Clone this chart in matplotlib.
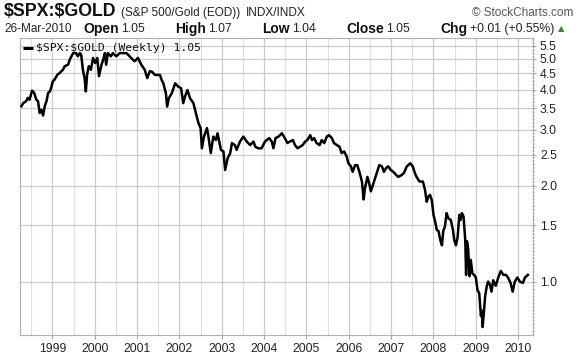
import matplotlib
matplotlib.use("Agg")
import matplotlib.pyplot as plt
from matplotlib.ticker import NullLocator

# ---- data (decimal year, SPX/GOLD ratio) ----
dates = [
    1998.27, 1998.31, 1998.38, 1998.42, 1998.46, 1998.52, 1998.57, 1998.62, 1998.66, 1998.70,
    1998.74, 1998.78, 1998.82, 1998.86, 1998.90, 1998.94, 1998.97, 1999.01, 1999.05, 1999.12,
    1999.17, 1999.25, 1999.29, 1999.37, 1999.41, 1999.49, 1999.56, 1999.60, 1999.65, 1999.68,
    1999.72, 1999.76, 1999.79, 1999.82, 1999.86, 1999.91, 1999.96, 2000.01, 2000.06, 2000.10,
    2000.16, 2000.20, 2000.24, 2000.27, 2000.31, 2000.38, 2000.43, 2000.51, 2000.59, 2000.75,
    2000.86, 2000.94, 2001.02, 2001.10, 2001.18, 2001.24, 2001.30, 2001.35, 2001.42, 2001.54,
    2001.58, 2001.62, 2001.68, 2001.71, 2001.75, 2001.82, 2001.90, 2001.97, 2002.04, 2002.09,
    2002.13, 2002.19, 2002.25, 2002.33, 2002.37, 2002.41, 2002.45, 2002.50, 2002.53, 2002.58,
    2002.65, 2002.68, 2002.74, 2002.80, 2002.86, 2002.90, 2002.94, 2002.98, 2003.04, 2003.08,
    2003.14, 2003.20, 2003.24, 2003.31, 2003.35, 2003.43, 2003.51, 2003.59, 2003.67, 2003.75,
    2003.79, 2003.86, 2003.94, 2004.02, 2004.12, 2004.18, 2004.22, 2004.27, 2004.34, 2004.42,
    2004.49, 2004.55, 2004.61, 2004.68, 2004.73, 2004.79, 2004.85, 2004.91, 2004.97, 2005.02,
    2005.09, 2005.13, 2005.18, 2005.24, 2005.31, 2005.36, 2005.42, 2005.48, 2005.53, 2005.60,
    2005.65, 2005.72, 2005.78, 2005.83, 2005.89, 2005.95, 2005.99, 2006.05, 2006.09, 2006.15,
    2006.20, 2006.25, 2006.31, 2006.35, 2006.38, 2006.44, 2006.49, 2006.52, 2006.57, 2006.62,
    2006.67, 2006.72, 2006.78, 2006.83, 2006.88, 2006.93, 2006.99, 2007.05, 2007.12, 2007.17,
    2007.25, 2007.30, 2007.37, 2007.45, 2007.51, 2007.56, 2007.60, 2007.67, 2007.75, 2007.80,
    2007.84, 2007.88, 2007.92, 2007.96, 2008.00, 2008.04, 2008.08, 2008.12, 2008.16, 2008.20,
    2008.23, 2008.27, 2008.31, 2008.35, 2008.41, 2008.46, 2008.49, 2008.53, 2008.57, 2008.61,
    2008.64, 2008.67, 2008.71, 2008.75, 2008.77, 2008.79, 2008.82, 2008.85, 2008.88, 2008.92,
    2008.96, 2009.00, 2009.04, 2009.08, 2009.12, 2009.14, 2009.16, 2009.19, 2009.22, 2009.26,
    2009.29, 2009.33, 2009.37, 2009.41, 2009.47, 2009.53, 2009.59, 2009.65, 2009.71, 2009.76,
    2009.82, 2009.87, 2009.92, 2009.98, 2010.04, 2010.11, 2010.16, 2010.23,
]
values = [
    3.55, 3.63, 3.68, 3.77, 3.72, 3.97, 3.91, 3.72, 3.68, 3.38,
    3.46, 3.32, 3.55, 3.68, 3.91, 3.95, 4.05, 4.25, 4.30, 4.46,
    4.51, 4.62, 4.74, 4.79, 4.97, 5.21, 5.21, 5.09, 5.21, 5.15,
    4.62, 4.35, 3.95, 4.46, 4.74, 4.62, 5.03, 4.85, 5.03, 4.41,
    4.79, 4.97, 5.21, 4.79, 5.21, 5.09, 5.21, 5.09, 5.21, 5.21,
    5.03, 4.91, 5.03, 4.79, 4.62, 4.35, 4.57, 4.56, 4.45, 4.45,
    4.29, 4.19, 3.90, 3.54, 3.76, 3.90, 4.19, 4.09, 4.04, 3.63,
    3.80, 3.99, 3.76, 3.63, 3.45, 3.29, 3.14, 3.03, 2.62, 2.85,
    3.03, 2.88, 2.53, 2.85, 2.78, 2.92, 2.75, 2.59, 2.56, 2.24,
    2.44, 2.53, 2.72, 2.68, 2.59, 2.75, 2.85, 2.75, 2.68, 2.75,
    2.65, 2.62, 2.62, 2.75, 2.82, 2.75, 2.62, 2.82, 2.85, 2.92,
    2.82, 2.72, 2.75, 2.78, 2.68, 2.62, 2.65, 2.68, 2.75, 2.78,
    2.88, 2.78, 2.82, 2.72, 2.68, 2.78, 2.72, 2.85, 2.88, 2.82,
    2.72, 2.68, 2.65, 2.53, 2.56, 2.47, 2.35, 2.30, 2.21, 2.32,
    2.32, 2.21, 2.06, 1.81, 1.96, 2.13, 2.01, 1.92, 2.01, 2.11,
    2.21, 2.32, 2.30, 2.21, 2.27, 2.30, 2.24, 2.21, 2.16, 2.13,
    2.16, 2.19, 2.30, 2.35, 2.30, 2.19, 2.13, 2.06, 2.06, 1.94,
    1.78, 1.85, 1.87, 1.80, 1.62, 1.54, 1.45, 1.44, 1.35, 1.30,
    1.44, 1.49, 1.64, 1.58, 1.56, 1.45, 1.35, 1.30, 1.38, 1.62,
    1.56, 1.64, 1.60, 1.35, 1.05, 1.34, 1.26, 1.04, 1.17, 1.06,
    1.05, 1.03, 0.94, 0.92, 0.78, 0.81, 0.72, 0.80, 0.90, 0.97,
    1.00, 0.98, 0.93, 1.01, 0.97, 1.03, 1.08, 1.05, 1.05, 1.03,
    0.99, 0.93, 1.00, 1.03, 1.00, 0.99, 1.03, 1.05,
]
y_ticks = [1.0, 1.5, 2.0, 2.5, 3.0, 3.5, 4.0, 4.5, 5.0, 5.5]
y_tick_labels = ["1.0", "1.5", "2.0", "2.5", "3.0", "3.5", "4.0", "4.5", "5.0", "5.5"]
years = list(range(1999, 2011))
year_labels = [str(y) for y in years]
half_years = [y + 0.5 for y in range(1998, 2010)]

title = "$SPX:$GOLD"
subtitle = "(S&P 500/Gold (EOD))"
exchange = "INDX/INDX"
credit = "\u00a9 StockCharts.com"
date_txt = "26-Mar-2010"
ohlc = [("Open", "1.05"), ("High", "1.07"), ("Low", "1.04"), ("Close", "1.05"), ("Chg", "+0.01 (+0.55%)")]
legend_txt = "$SPX:$GOLD (Weekly) 1.05"

W, H = 576, 356
fig = plt.figure(figsize=(W / 100, H / 100), dpi=100)
fig.patch.set_facecolor("white")
ax = fig.add_axes([20 / W, 1 - 335 / H, 513 / W, 297 / H])

ax.plot(dates, values, color="black", lw=1.8, solid_joinstyle="round", zorder=3)
ax.set_yscale("log")
ax.set_xlim(1998.235, 2010.35)
ax.set_ylim(0.68, 5.81)

ax.yaxis.tick_right()
ax.set_yticks(y_ticks)
ax.set_yticklabels(y_tick_labels)
ax.yaxis.set_minor_locator(NullLocator())
ax.set_xticks(years)
ax.set_xticklabels(year_labels)
ax.set_xticks(half_years, minor=True)

ax.grid(True, which="major", axis="both", color="#cccccc", lw=0.9)
ax.grid(True, which="minor", axis="x", color="#dedede", lw=0.8)
ax.set_axisbelow(True)

ax.tick_params(axis="x", which="major", length=3, color="#aaaaaa", labelsize=8.8,
               labelcolor="#222222", pad=3)
ax.tick_params(axis="x", which="minor", length=0)
ax.tick_params(axis="y", which="major", length=2, color="#aaaaaa", labelsize=8.8,
               labelcolor="#222222", pad=3)
for lab in ax.get_xticklabels() + ax.get_yticklabels():
    lab.set_family("Liberation Sans")

for s in ["left", "top", "bottom"]:
    ax.spines[s].set_color("#b0b0b0")
    ax.spines[s].set_linewidth(0.8)
ax.spines["right"].set_color("#999999")
ax.spines["right"].set_linestyle((0, (1, 1.5)))
ax.spines["right"].set_linewidth(1.0)

# legend
ax.plot([0.006, 0.026], [0.967, 0.967], transform=ax.transAxes, color="black", lw=2.2,
        solid_capstyle="butt", clip_on=False, zorder=4)
ax.text(0.031, 0.967, legend_txt, transform=ax.transAxes, ha="left", va="center",
        family="DejaVu Sans Mono", fontsize=8.2, color="#111111", parse_math=False, zorder=4)

# header
def ftext(x, y, s, **kw):
    return fig.text(x / W, 1 - y / H, s, parse_math=False, family="Liberation Sans", **kw)

ftext(4, 12, title, fontsize=12.8, fontweight="bold", va="center", color="#111111")
ftext(121, 13, subtitle, fontsize=8.5, va="center", color="#222222")
ftext(246, 13, exchange, fontsize=8.5, va="center", color="#222222")
ftext(573, 13, credit, fontsize=8.5, va="center", ha="right", color="#555555")

ftext(4, 29, date_txt, fontsize=8.5, va="center", color="#222222")
renderer = fig.canvas.get_renderer()

# sequential layout of the OHLC line between x=83 and x=554
parts = []
for lab, num in ohlc:
    t1 = ftext(0, 29, lab, fontsize=10, fontweight="bold", va="center", color="#111111")
    t2 = ftext(0, 29, num, fontsize=8.8, va="center", color="#222222")
    parts.append((t1, t2))
widths = [(a.get_window_extent(renderer).width, b.get_window_extent(renderer).width) for a, b in parts]
inner = 2.5
total = sum(w1 + w2 + inner for w1, w2 in widths)
gap = (554 - 83 - total) / (len(parts) - 1)
x = 83
for (t1, t2), (w1, w2) in zip(parts, widths):
    t1.set_x(x / W)
    t2.set_x((x + w1 + inner) / W)
    x += w1 + inner + w2 + gap
fig.text(561 / W, 1 - 29 / H, "\u25b2", fontsize=6, color="#2e8b2e", ha="center", va="center",
         family="DejaVu Sans")

fig.savefig("out.png", dpi=100, facecolor="white")
